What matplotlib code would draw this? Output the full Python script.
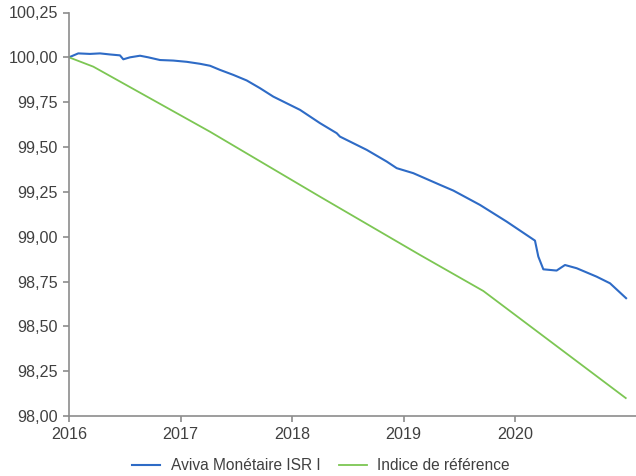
import matplotlib
matplotlib.use("Agg")
import matplotlib.pyplot as plt
from matplotlib.ticker import FuncFormatter, FixedLocator

plt.rcParams['font.family'] = ['Liberation Sans', 'DejaVu Sans']

# Fund series (fractional years, value)
fund_t = [2016.0, 2016.083, 2016.188, 2016.278, 2016.368, 2016.457, 2016.487, 2016.547,
          2016.637, 2016.711, 2016.816, 2016.935, 2017.056, 2017.175, 2017.265, 2017.354,
          2017.474, 2017.594, 2017.713, 2017.832, 2018.072, 2018.251, 2018.401, 2018.430,
          2018.670, 2018.849, 2018.939, 2019.088, 2019.327, 2019.447, 2019.686, 2019.925,
          2020.179, 2020.209, 2020.254, 2020.373, 2020.448, 2020.553, 2020.732, 2020.852,
          2020.996]
fund_v = [100.000, 100.022, 100.019, 100.022, 100.016, 100.011, 99.989, 100.000,
          100.009, 100.000, 99.985, 99.982, 99.975, 99.964, 99.953, 99.930,
          99.902, 99.871, 99.828, 99.781, 99.707, 99.633, 99.577, 99.558,
          99.484, 99.419, 99.382, 99.354, 99.289, 99.257, 99.177, 99.084,
          98.978, 98.889, 98.818, 98.811, 98.842, 98.824, 98.777, 98.740,
          98.657]

# Benchmark series
bench_t = [2016.0, 2016.218, 2017.265, 2018.251, 2019.148, 2019.716, 2020.993]
bench_v = [100.000, 99.948, 99.585, 99.223, 98.898, 98.697, 98.100]

yticks = [98.00, 98.25, 98.50, 98.75, 99.00, 99.25, 99.50, 99.75, 100.00, 100.25]
xticks = [2016, 2017, 2018, 2019, 2020]
labels = ["Aviva Monétaire ISR I", "Indice de référence"]

W, H = 636, 476
fig = plt.figure(figsize=(W / 100, H / 100), dpi=100)
ax = fig.add_axes([69 / W, 60 / H, (W - 69) / W, (416 - 12.5) / H])

ax.plot(fund_t, fund_v, color="#2E6BC6", lw=1.5, label=labels[0])
ax.plot(bench_t, bench_v, color="#7CC653", lw=1.3, label=labels[1])

ax.set_xlim(2016, 2021.085)
ax.set_ylim(98.0, 100.25)
ax.xaxis.set_major_locator(FixedLocator(xticks))
ax.yaxis.set_major_locator(FixedLocator(yticks))
ax.yaxis.set_major_formatter(FuncFormatter(lambda v, p: f"{v:.2f}".replace(".", ",")))
ax.xaxis.set_major_formatter(FuncFormatter(lambda v, p: f"{int(round(v))}"))

for s in ["top", "right"]:
    ax.spines[s].set_visible(False)
for s in ["left", "bottom"]:
    ax.spines[s].set_color("#8C8C8C")
    ax.spines[s].set_linewidth(1.2)
ax.tick_params(axis="both", colors="#8C8C8C", width=1.2, length=4,
               labelcolor="#404040", labelsize=11.6)
ax.tick_params(axis="y", pad=4)
ax.tick_params(axis="x", pad=4)

leg = fig.legend(loc="center", bbox_to_anchor=(321 / W, 10 / H), ncol=2, frameon=False,
                 fontsize=11.2, handlelength=1.8, columnspacing=1.2, handletextpad=0.65)
for t in leg.get_texts():
    t.set_color("#404040")

fig.savefig("out.png", dpi=100)
